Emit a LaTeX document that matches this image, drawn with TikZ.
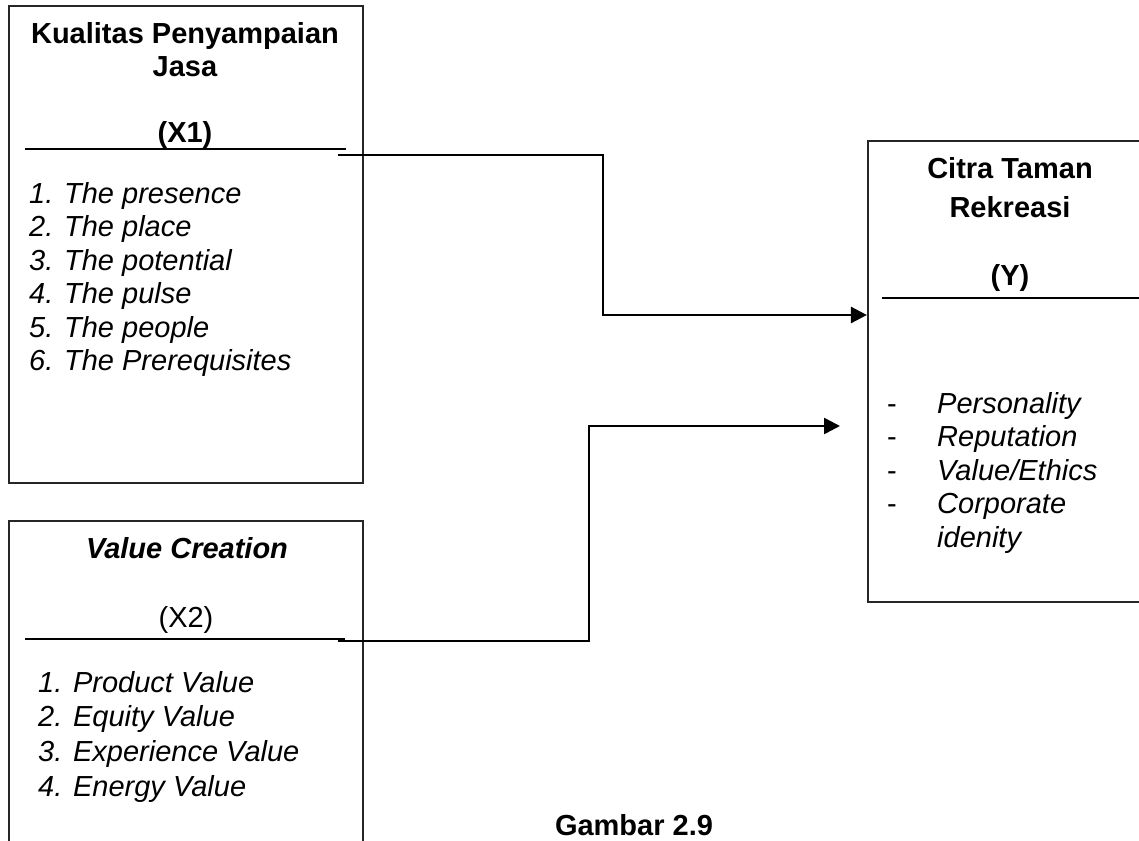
\documentclass[tikz,border=0pt]{standalone}
\usepackage{fontspec}
\setmainfont{Liberation Sans}
\usetikzlibrary{arrows.meta,positioning,calc}
\definecolor{FrameGray}{HTML}{262626}
\newcommand{\figfont}{\fontsize{29}{33.4}\selectfont}

\begin{document}
\begin{tikzpicture}[x=1pt,y=-1pt,
    box/.style={draw=FrameGray,line width=2.2pt,inner sep=0pt},
    rule/.style={black,line width=2.2pt},
    link/.style={black,line width=2.6pt,-{Triangle[length=16pt,width=16pt]}},
    txt/.style={inner sep=0pt,anchor=base,font=\figfont\bfseries},
    item/.style={inner sep=0pt,anchor=base west,font=\figfont\itshape}]
  \useasboundingbox (0,0) rectangle (1139,840);
  \clip (0,0) rectangle (1139,840);
  \node[box,minimum width=354pt,minimum height=477pt] (x1) at (186,244.5) {};
  \node[box,minimum width=354pt,minimum height=329pt] (x2) at (186,685.5) {};
  \node[box,minimum width=277pt,minimum height=461pt] (y) at (1006.5,371.5) {};

  \node[txt] (x1t1) at (185,44) {Kualitas Penyampaian};
  \node[txt] (x1t2) at (185,77) {Jasa};
  \node[txt] (x1t3) at (185,142) {(X1)};
  \draw[rule] (25,149) -- (346,149);
  \foreach \t [count=\i] in {The presence,The place,The potential,The pulse,The people,The Prerequisites}
    \node[item] (x1i\i) at (29,{203+33.5*(\i-1)}) {\i. \t};

  \node[txt,font=\figfont\bfseries\itshape] (x2t1) at (187,558) {Value Creation};
  \node[txt,font=\figfont] (x2t2) at (186,627) {(X2)};
  \draw[rule] (25,639) -- (345,639);
  \foreach \t [count=\i] in {Product,Equity,Experience,Energy}
    \node[item] (x2i\i) at (38,{692+34.7*(\i-1)}) {\i. \t{} Value};

  \node[txt] (yt1) at (1010,178) {Citra Taman};
  \node[txt] (yt2) at (1010,217) {Rekreasi};
  \node[txt] (yt3) at (1010,285) {(Y)};
  \draw[rule] (882,298) -- (1139,298);
  \foreach \t [count=\i] in {Personality,Reputation,Value/Ethics,Corporate}{
    \node[item,font=\figfont] (yd\i) at (887,{413+33.5*(\i-1)}) {-};
    \node[item] (yi\i) at (937,{413+33.5*(\i-1)}) {\t};
  }
  \node[item] (yi5) at (937,547) {idenity};

  \coordinate (a1) at (338,155);
  \coordinate (b1) at (603,315);
  \draw[link] (a1) -| (b1) -- (b1 -| y.west);
  \coordinate (a2) at (338,641);
  \coordinate (b2) at (589,426);
  \coordinate (c2) at (840,426);
  \draw[link] (a2) -| (b2) -- (c2);

  \node[txt] (cap) at (634,835) {Gambar 2.9};
\end{tikzpicture}
\end{document}
